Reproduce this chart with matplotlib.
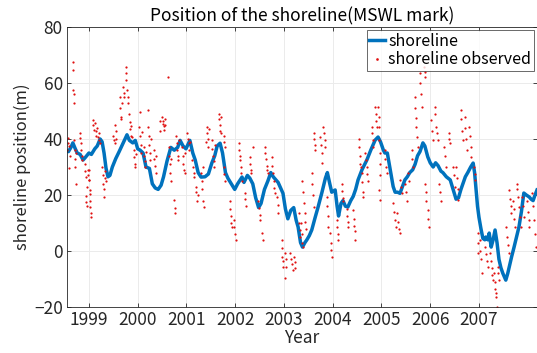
#!/usr/bin/env python3
"""
plot.py

Shoreline position (MSWL mark): modelled line and observed points.
"""
import numpy as np
import matplotlib
matplotlib.use("Agg")
import matplotlib.pyplot as plt


# Modelled shoreline, (decimal year, position in m)
shoreline = [
    (1998.53, 36), (1998.58, 35.5), (1998.63, 37), (1998.67, 38.6), (1998.72, 36.5),
    (1998.76, 35), (1998.82, 34.5), (1998.88, 32.5), (1998.93, 33.5), (1999.00, 35),
    (1999.05, 34.5), (1999.12, 36.5), (1999.17, 37.5), (1999.23, 40), (1999.27, 39),
    (1999.31, 35), (1999.35, 29.6), (1999.39, 26.5), (1999.43, 27), (1999.48, 30),
    (1999.55, 33), (1999.62, 35.5), (1999.70, 38.5), (1999.78, 41.5), (1999.83, 39.5),
    (1999.90, 38.6), (1999.95, 39.5), (2000.00, 36.5), (2000.05, 36), (2000.11, 35),
    (2000.17, 30), (2000.24, 29.5), (2000.30, 24), (2000.36, 22.5), (2000.42, 22),
    (2000.48, 23.5), (2000.53, 26.5), (2000.60, 32), (2000.68, 37), (2000.75, 36),
    (2000.82, 37), (2000.87, 39.5), (2000.93, 37.5), (2000.99, 36.5), (2001.07, 39.5),
    (2001.13, 35), (2001.18, 32.5), (2001.24, 28), (2001.30, 26.4), (2001.38, 26.5),
    (2001.45, 27.5), (2001.52, 31.4), (2001.58, 34), (2001.63, 37.5), (2001.69, 38.5),
    (2001.74, 35), (2001.80, 28), (2001.85, 26), (2001.92, 24), (2001.99, 22),
    (2002.05, 24), (2002.14, 26.4), (2002.18, 24.5), (2002.25, 27), (2002.30, 26),
    (2002.36, 24), (2002.42, 19), (2002.48, 15.5), (2002.53, 17), (2002.60, 22),
    (2002.67, 25), (2002.73, 28), (2002.78, 26.5), (2002.88, 24.5), (2002.98, 20.6),
    (2003.03, 15), (2003.08, 11.5), (2003.14, 14.5), (2003.20, 15.5), (2003.25, 11),
    (2003.29, 8.6), (2003.34, 3), (2003.38, 1.4), (2003.43, 3), (2003.47, 4),
    (2003.52, 5.5), (2003.57, 7.5), (2003.64, 12), (2003.70, 15.7), (2003.78, 21),
    (2003.85, 26), (2003.89, 28), (2003.94, 24), (2003.98, 21), (2004.05, 21.8),
    (2004.09, 16), (2004.12, 12.5), (2004.17, 17), (2004.21, 18), (2004.26, 16),
    (2004.31, 15.7), (2004.37, 18), (2004.42, 19.5), (2004.47, 22), (2004.52, 25.4),
    (2004.60, 29), (2004.70, 32.5), (2004.78, 36), (2004.87, 39.6), (2004.93, 40.7),
    (2004.98, 39), (2005.04, 36), (2005.07, 35), (2005.12, 35), (2005.19, 28),
    (2005.24, 23), (2005.28, 21), (2005.33, 21), (2005.38, 20.6), (2005.43, 23),
    (2005.48, 25.4), (2005.53, 26.5), (2005.58, 28), (2005.64, 29), (2005.69, 31),
    (2005.74, 34), (2005.79, 35.5), (2005.85, 38.6), (2005.89, 37.5), (2005.95, 33.6),
    (2006.00, 31.5), (2006.06, 30), (2006.11, 31.5), (2006.16, 30.5), (2006.22, 28.5),
    (2006.26, 28), (2006.33, 26.5), (2006.41, 25.4), (2006.47, 22), (2006.53, 18.5),
    (2006.58, 19), (2006.63, 22), (2006.67, 24), (2006.72, 26.5), (2006.77, 28),
    (2006.83, 30), (2006.88, 31.4), (2006.91, 28), (2006.94, 21.8), (2006.97, 16),
    (2007.00, 12), (2007.04, 8), (2007.08, 4.5), (2007.12, 4), (2007.14, 5),
    (2007.18, 4), (2007.21, 6.4), (2007.25, 1.4), (2007.29, 4), (2007.33, 7.5),
    (2007.37, 3), (2007.41, -3), (2007.45, -6), (2007.49, -8), (2007.55, -10.4),
    (2007.59, -8), (2007.62, -5.7), (2007.67, -2), (2007.72, 1.4), (2007.77, 5),
    (2007.82, 8.6), (2007.87, 14), (2007.92, 20.7), (2007.97, 20), (2008.03, 19.3),
    (2008.07, 18.5), (2008.11, 18), (2008.15, 20), (2008.19, 21.8),
]

# Observed shoreline, grouped by year, (decimal year, position in m)
obs_1998 = [
    (1998.56, 36), (1998.57, 38.5), (1998.58, 40.5), (1998.59, 37.5), (1998.60, 29.5),
    (1998.61, 34), (1998.67, 67.5), (1998.68, 64.5), (1998.68, 57.5), (1998.69, 56),
    (1998.69, 53), (1998.70, 39.5), (1998.71, 36), (1998.72, 33), (1998.72, 30),
    (1998.73, 24), (1998.74, 35), (1998.81, 42), (1998.82, 40.5), (1998.83, 38.5),
    (1998.84, 36), (1998.85, 34), (1998.86, 32.5), (1998.91, 31), (1998.92, 28.5),
    (1998.93, 26.5), (1998.93, 19.5), (1998.94, 17.5), (1998.95, 16), (1998.96, 23),
    (1998.98, 29), (1998.99, 27),
]
obs_1999 = [
    (1999.00, 25.5), (1999.00, 29), (1999.01, 25.5), (1999.02, 21.8), (1999.03, 20.5),
    (1999.03, 15.8), (1999.04, 13.5), (1999.05, 12.3), (1999.02, 18), (1999.08, 46.8),
    (1999.09, 45), (1999.10, 43.2), (1999.13, 45.6), (1999.14, 43), (1999.15, 41),
    (1999.16, 44), (1999.18, 40.8), (1999.21, 39.6), (1999.22, 38.4), (1999.20, 42),
    (1999.27, 30), (1999.28, 27), (1999.29, 24), (1999.30, 22), (1999.31, 19.4),
    (1999.32, 26), (1999.33, 28.5), (1999.35, 25), (1999.50, 41), (1999.52, 39.5),
    (1999.53, 38.4), (1999.54, 45), (1999.56, 43), (1999.55, 40), (1999.63, 55),
    (1999.64, 51), (1999.65, 48), (1999.66, 47), (1999.67, 53), (1999.70, 58.7),
    (1999.71, 56.5), (1999.72, 55), (1999.76, 65.8), (1999.77, 63.5), (1999.77, 61),
    (1999.79, 57.5), (1999.80, 55), (1999.80, 52.7), (1999.83, 49), (1999.84, 46),
    (1999.85, 43.5), (1999.86, 41), (1999.87, 44.5), (1999.88, 40.8), (1999.92, 36),
    (1999.93, 33.5), (1999.94, 31), (1999.95, 30), (1999.96, 34.5),
]
obs_2000 = [
    (2000.04, 49.8), (2000.03, 44.4), (2000.05, 41), (2000.06, 38), (2000.07, 34.9),
    (2000.08, 42.5), (2000.12, 37.3), (2000.13, 34), (2000.14, 32), (2000.16, 30),
    (2000.17, 35.5), (2000.22, 50.4), (2000.22, 44.4), (2000.23, 41), (2000.24, 38),
    (2000.25, 35), (2000.26, 32.5), (2000.27, 40), (2000.33, 36), (2000.34, 33),
    (2000.35, 30.5), (2000.37, 27.7), (2000.38, 34), (2000.45, 46.5), (2000.46, 43),
    (2000.50, 48), (2000.51, 46.5), (2000.52, 45.5), (2000.53, 44.5), (2000.54, 43.2),
    (2000.55, 47), (2000.56, 45), (2000.63, 62.3), (2000.64, 37), (2000.65, 34),
    (2000.66, 31), (2000.67, 28), (2000.68, 25), (2000.69, 33), (2000.75, 18.2),
    (2000.76, 15.5), (2000.77, 13.5), (2000.79, 41), (2000.80, 38.5), (2000.81, 36),
    (2000.82, 34), (2000.83, 32.5), (2000.84, 39.5), (2000.91, 37), (2000.92, 34),
    (2000.93, 31), (2000.95, 29), (2000.96, 27.7), (2000.97, 35),
]
obs_2001 = [
    (2001.02, 42), (2001.03, 40), (2001.05, 38.5), (2001.06, 36), (2001.07, 39),
    (2001.12, 32.5), (2001.13, 30), (2001.15, 28), (2001.16, 26.5), (2001.19, 23),
    (2001.20, 21), (2001.22, 18), (2001.23, 20), (2001.33, 18), (2001.35, 15.8),
    (2001.34, 30), (2001.30, 28), (2001.31, 25), (2001.32, 22), (2001.42, 44.4),
    (2001.43, 42), (2001.44, 40), (2001.45, 37.3), (2001.46, 43.5), (2001.41, 39),
    (2001.52, 39.6), (2001.53, 36.5), (2001.55, 34), (2001.56, 32), (2001.57, 30),
    (2001.58, 38), (2001.66, 49), (2001.67, 47), (2001.68, 45), (2001.69, 43),
    (2001.70, 42), (2001.70, 48), (2001.76, 41), (2001.77, 39), (2001.79, 37),
    (2001.76, 30), (2001.78, 27.5), (2001.80, 25), (2001.89, 18), (2001.90, 15),
    (2001.91, 12.5), (2001.92, 10), (2001.93, 8.7), (2001.97, 11), (2001.98, 8.5),
]
obs_2002 = [
    (2002.00, 6), (2002.01, 4), (2002.07, 38.5), (2002.08, 36), (2002.09, 34),
    (2002.10, 32.5), (2002.11, 30), (2002.12, 28), (2002.14, 25), (2002.20, 20.6),
    (2002.21, 18.5), (2002.22, 16), (2002.30, 33.7), (2002.31, 31), (2002.32, 29),
    (2002.33, 27.7), (2002.36, 37), (2002.47, 18), (2002.48, 15.5), (2002.50, 13),
    (2002.51, 11), (2002.54, 6.3), (2002.56, 4), (2002.61, 37.3), (2002.62, 35),
    (2002.64, 33), (2002.65, 30.5), (2002.67, 27.7), (2002.66, 29), (2002.75, 33.7),
    (2002.76, 30.5), (2002.77, 28), (2002.79, 25), (2002.80, 22.5), (2002.82, 20.6),
    (2002.85, 19.4), (2002.87, 16.5), (2002.88, 13.5), (2002.95, 4), (2002.96, 1),
    (2002.97, -2), (2002.99, -5.6), (2002.98, -3.5),
]
obs_2003 = [
    (2003.03, -0.8), (2003.04, -3), (2003.05, -5.6), (2003.03, -9.8), (2003.12, -0.8),
    (2003.14, -3), (2003.16, -4.5), (2003.18, -6.8), (2003.20, -2), (2003.22, -4),
    (2003.23, -6), (2003.30, 13.5), (2003.31, 10), (2003.32, 7.5), (2003.33, 5.1),
    (2003.34, 9.9), (2003.36, 6), (2003.38, 3), (2003.40, 1.5), (2003.38, 25),
    (2003.40, 21), (2003.42, 17), (2003.43, 13.5), (2003.44, 10.5), (2003.46, 8),
    (2003.57, 27.7), (2003.58, 24), (2003.60, 20), (2003.61, 15.8), (2003.61, 42),
    (2003.62, 40), (2003.63, 38), (2003.64, 36), (2003.74, 40.8), (2003.75, 38),
    (2003.77, 35), (2003.78, 31.3), (2003.81, 44.4), (2003.83, 42), (2003.84, 39.5),
    (2003.85, 37.3), (2003.88, 19.4), (2003.89, 16), (2003.90, 12.5), (2003.91, 8.7),
    (2003.95, 6.3), (2003.96, 3), (2003.97, 0.5), (2003.98, -2),
]
obs_2004 = [
    (2004.08, 11), (2004.09, 8.5), (2004.10, 6), (2004.11, 4), (2004.19, 24),
    (2004.20, 21.5), (2004.21, 19), (2004.22, 18), (2004.29, 15), (2004.30, 12.5),
    (2004.31, 10.5), (2004.32, 8.7), (2004.42, 14.6), (2004.43, 11.5), (2004.44, 9),
    (2004.45, 7), (2004.46, 4), (2004.53, 40), (2004.54, 37), (2004.55, 34),
    (2004.56, 31), (2004.57, 30), (2004.60, 27.7), (2004.61, 24.5), (2004.62, 21),
    (2004.62, 19.4), (2004.67, 35), (2004.68, 32.5), (2004.70, 30), (2004.71, 27.5),
    (2004.72, 25), (2004.80, 44.4), (2004.81, 42), (2004.82, 39.5), (2004.83, 37.3),
    (2004.87, 51.5), (2004.88, 49), (2004.89, 46.5), (2004.90, 44.4), (2004.93, 51.5),
    (2004.94, 48), (2004.95, 44.4), (2004.94, 39.6), (2004.96, 35), (2004.97, 31),
    (2004.98, 27), (2004.95, 21.8), (2004.96, 18.2),
]
obs_2005 = [
    (2005.07, 36), (2005.08, 33), (2005.10, 30), (2005.12, 27.7), (2005.24, 17),
    (2005.26, 14), (2005.28, 11), (2005.30, 8.7), (2005.32, 13.5), (2005.33, 10.5),
    (2005.35, 8), (2005.37, 6.3), (2005.38, 25.4), (2005.40, 23), (2005.42, 20.6),
    (2005.48, 24), (2005.50, 21), (2005.52, 18), (2005.55, 27.7), (2005.57, 25),
    (2005.62, 36), (2005.63, 33), (2005.65, 30), (2005.68, 55), (2005.69, 51),
    (2005.70, 47.5), (2005.71, 44.4), (2005.72, 40.8), (2005.74, 37.3), (2005.78, 63.5),
    (2005.79, 60), (2005.81, 56), (2005.83, 51.5), (2005.88, 65.8), (2005.89, 64),
    (2005.90, 62.3), (2005.89, 24), (2005.91, 21), (2005.92, 18), (2005.95, 14.6),
    (2005.96, 11.5), (2005.98, 8.7),
]
obs_2006 = [
    (2006.02, 46.8), (2006.03, 43), (2006.05, 39.6), (2006.09, 51.5), (2006.10, 49),
    (2006.12, 44.4), (2006.13, 42), (2006.15, 39.6), (2006.19, 24), (2006.20, 21),
    (2006.22, 18), (2006.28, 37.3), (2006.30, 34), (2006.32, 30), (2006.38, 42),
    (2006.39, 40), (2006.41, 38.4), (2006.46, 30), (2006.48, 27), (2006.50, 23),
    (2006.53, 30), (2006.54, 26), (2006.56, 22), (2006.57, 18.2), (2006.63, 50.4),
    (2006.64, 47), (2006.66, 43), (2006.68, 39.6), (2006.71, 48), (2006.72, 44),
    (2006.74, 40), (2006.75, 36), (2006.80, 44.4), (2006.81, 41), (2006.83, 37),
    (2006.84, 33.7), (2006.90, 30), (2006.91, 27.5), (2006.92, 25.4), (2006.97, 6.3),
    (2006.98, 3), (2006.99, -0.8),
]
obs_2007 = [
    (2007.02, 4), (2007.03, 0), (2007.05, -3), (2007.06, -8), (2007.12, 1.5),
    (2007.14, -1), (2007.16, -3.5), (2007.18, -5.6), (2007.22, -0.8), (2007.24, -3.5),
    (2007.26, -6), (2007.27, -8.5), (2007.28, -10.4), (2007.31, -8), (2007.32, -11),
    (2007.33, -13.5), (2007.34, -15), (2007.35, -16.3), (2007.36, -19.9), (2007.38, -5.6),
    (2007.40, -8), (2007.42, -10.4), (2007.56, 8.7), (2007.58, 5), (2007.60, 2),
    (2007.62, -0.8), (2007.61, 21.8), (2007.63, 18.5), (2007.65, 16), (2007.66, 13.5),
    (2007.70, 18), (2007.71, 15), (2007.72, 11.5), (2007.73, 8.7), (2007.77, 24),
    (2007.78, 22), (2007.80, 19.4), (2007.83, 15.8), (2007.84, 12), (2007.86, 8.7),
    (2007.89, 19.4), (2007.91, 16), (2007.93, 12.3), (2007.98, 18), (2008.00, 14),
    (2008.02, 11), (2008.03, 8.7), (2008.08, 20.6), (2008.10, 16), (2008.12, 11),
    (2008.14, 6), (2008.16, 1.5),
]

year_ticks = [1999, 2000, 2001, 2002, 2003, 2004, 2005, 2006, 2007]
y_ticks = [-20, 0, 20, 40, 60, 80]

line = np.array(shoreline)
obs = np.array(obs_1998 + obs_1999 + obs_2000 + obs_2001 + obs_2002 + obs_2003
               + obs_2004 + obs_2005 + obs_2006 + obs_2007)

plt.rcParams["font.family"] = ["Noto Sans CJK JP", "DejaVu Sans"]
axcol = "#262626"

fig = plt.figure(figsize=(5.37, 3.53), dpi=100)
ax = fig.add_axes([67 / 537, 1 - 307 / 353, 470 / 537, 280 / 353])

ax.plot(line[:, 0], line[:, 1], color="#0072BD", lw=2.5, label="shoreline")
ax.plot(obs[:, 0], obs[:, 1], ".", color="#e01010", ms=3.2, mew=0,
        label="shoreline observed")

ax.set_xlim(1998.55, 2008.19)
ax.set_ylim(-20, 80)
ax.set_xticks(year_ticks)
ax.set_xticklabels([str(y) for y in year_ticks])
ax.set_yticks(y_ticks)
ax.tick_params(direction="in", length=3, width=0.6, colors=axcol,
               labelsize=12.5, top=True, right=True, pad=3)
ax.grid(True, color="#ebebeb", lw=0.7)
ax.set_axisbelow(True)
for s in ax.spines.values():
    s.set_color(axcol)
    s.set_linewidth(0.6)

ax.set_title("Position of the shoreline(MSWL mark)", fontsize=12.5,
             color="black", pad=4)
ax.set_xlabel("Year", fontsize=12.5, color=axcol, labelpad=0)
ax.set_ylabel("shoreline position(m)", fontsize=12, color=axcol, labelpad=2)

leg = ax.legend(loc="upper right", fontsize=11.5, frameon=True, fancybox=False,
                borderpad=0.15, handlelength=1.0, handletextpad=0.2,
                labelspacing=0.1, borderaxespad=0.2, markerscale=1.2)
leg.get_frame().set_edgecolor(axcol)
leg.get_frame().set_linewidth(0.6)

fig.savefig("out.png", dpi=100)
